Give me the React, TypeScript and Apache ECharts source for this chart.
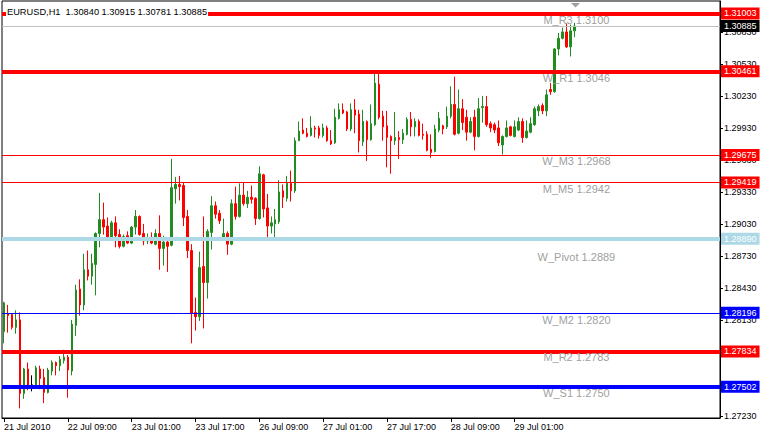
import React, { useEffect, useRef } from "react";
import * as echarts from "echarts";

// ---- candle data (EURUSD H1, 144 bars) ----
const opens = [
  1.2802, 1.2819, 1.2818, 1.2806, 1.2813, 1.2744, 1.2767, 1.2752, 1.2752, 1.2767,
  1.2759, 1.2745, 1.2765, 1.2773, 1.2770, 1.2775, 1.2778, 1.2765, 1.2808, 1.2842,
  1.2827, 1.2860, 1.2854, 1.2865, 1.2894, 1.2907, 1.2901, 1.2890, 1.2904, 1.2893,
  1.2882, 1.2892, 1.2885, 1.2900, 1.2910, 1.2894, 1.2887, 1.2889, 1.2884, 1.2894,
  1.2880, 1.2886, 1.2883, 1.2936, 1.2940, 1.2939, 1.2910, 1.2878, 1.2820, 1.2816,
  1.2863, 1.2848, 1.2895, 1.2920, 1.2913, 1.2888, 1.2894, 1.2884, 1.2922, 1.2910,
  1.2930, 1.2922, 1.2928, 1.2927, 1.2908, 1.2949, 1.2918, 1.2901, 1.2903, 1.2905,
  1.2934, 1.2927, 1.2941, 1.2934, 1.2981, 1.2991, 1.2988, 1.2986, 1.2993, 1.2993,
  1.2986, 1.2993, 1.2981, 1.2979, 1.3002, 1.3010, 1.3008, 1.2992, 1.3010, 1.3006,
  1.2980, 1.2999, 1.2982, 1.2996, 1.3034, 1.3004, 1.2995, 1.2985, 1.2981, 1.2984,
  1.2982, 1.2987, 1.3001, 1.2994, 1.2999, 1.2987, 1.2987, 1.2973, 1.2971, 1.2991,
  1.2995, 1.2994, 1.3004, 1.3015, 1.2988, 1.3011, 1.3003, 1.2989, 1.3003, 1.2985,
  1.3012, 1.3013, 1.2997, 1.2996, 1.2993, 1.2977, 1.2985, 1.2994, 1.2985, 1.2991,
  1.2999, 1.2984, 1.2989, 1.2996, 1.3009, 1.3014, 1.3009, 1.3029, 1.3027, 1.3067,
  1.3077, 1.3083, 1.3069, 1.3084,
];
const closes = [
  1.2829, 1.2817, 1.2806, 1.2813, 1.2744, 1.2767, 1.2751, 1.2752, 1.2768, 1.2758,
  1.2745, 1.2766, 1.2773, 1.2770, 1.2776, 1.2778, 1.2766, 1.2809, 1.2841, 1.2827,
  1.2860, 1.2854, 1.2866, 1.2894, 1.2907, 1.2900, 1.2890, 1.2904, 1.2892, 1.2882,
  1.2891, 1.2885, 1.2900, 1.2910, 1.2893, 1.2887, 1.2889, 1.2885, 1.2894, 1.2880,
  1.2886, 1.2882, 1.2937, 1.2940, 1.2938, 1.2909, 1.2878, 1.2819, 1.2816, 1.2862,
  1.2848, 1.2896, 1.2920, 1.2912, 1.2906, 1.2894, 1.2884, 1.2922, 1.2910, 1.2930,
  1.2922, 1.2928, 1.2926, 1.2908, 1.2950, 1.2917, 1.2901, 1.2904, 1.2907, 1.2933,
  1.2928, 1.2941, 1.2934, 1.2981, 1.2990, 1.2988, 1.2985, 1.2993, 1.2992, 1.2986,
  1.2993, 1.2981, 1.2978, 1.3003, 1.3010, 1.3007, 1.2992, 1.3010, 1.3005, 1.2981,
  1.2999, 1.2982, 1.2997, 1.3035, 1.3003, 1.2994, 1.2984, 1.2981, 1.2984, 1.2982,
  1.2988, 1.3001, 1.2994, 1.2999, 1.2986, 1.2986, 1.2972, 1.2970, 1.2992, 1.3002,
  1.2992, 1.3004, 1.3015, 1.2987, 1.3011, 1.2998, 1.2989, 1.2999, 1.2985, 1.3011,
  1.3013, 1.2996, 1.2993, 1.2991, 1.2979, 1.2985, 1.2993, 1.2986, 1.2994, 1.2999,
  1.2984, 1.2990, 1.2997, 1.3011, 1.3013, 1.3009, 1.3024, 1.3027, 1.3067, 1.3077,
  1.3083, 1.3069, 1.3084, 1.30885,
];
const lows = [
  1.2791, 1.2801, 1.2804, 1.2800, 1.2730, 1.2739, 1.2747, 1.2746, 1.2751, 1.2748,
  1.2735, 1.2744, 1.2761, 1.2761, 1.2765, 1.2772, 1.2740, 1.2761, 1.2798, 1.2817,
  1.2822, 1.2850, 1.2846, 1.2836, 1.2881, 1.2893, 1.2889, 1.2889, 1.2881, 1.2880,
  1.2881, 1.2884, 1.2884, 1.2893, 1.2892, 1.2883, 1.2884, 1.2884, 1.2883, 1.2860,
  1.2864, 1.2858, 1.2882, 1.2922, 1.2925, 1.2901, 1.2871, 1.2791, 1.2803, 1.2812,
  1.2805, 1.2833, 1.2879, 1.2908, 1.2903, 1.2887, 1.2874, 1.2883, 1.2907, 1.2909,
  1.2920, 1.2918, 1.2922, 1.2902, 1.2907, 1.2909, 1.2887, 1.2894, 1.2890, 1.2903,
  1.2918, 1.2924, 1.2924, 1.2932, 1.2981, 1.2987, 1.2984, 1.2985, 1.2984, 1.2983,
  1.2984, 1.2980, 1.2977, 1.2978, 1.3001, 1.3006, 1.2990, 1.2990, 1.2988, 1.2970,
  1.2976, 1.2962, 1.2981, 1.2995, 1.3001, 1.2981, 1.2956, 1.2950, 1.2977, 1.2964,
  1.2978, 1.2986, 1.2985, 1.2985, 1.2985, 1.2982, 1.2971, 1.2965, 1.2970, 1.2989,
  1.2987, 1.2992, 1.3002, 1.2986, 1.2987, 1.2991, 1.2981, 1.2988, 1.2972, 1.2984,
  1.2998, 1.2994, 1.2989, 1.2988, 1.2976, 1.2968, 1.2984, 1.2985, 1.2984, 1.2990,
  1.2979, 1.2983, 1.2988, 1.2995, 1.3004, 1.3006, 1.3004, 1.3024, 1.3026, 1.3061,
  1.3076, 1.3068, 1.3060, 1.30781,
];
const highs = [
  1.2830, 1.2827, 1.2819, 1.2822, 1.2820, 1.2768, 1.2773, 1.2761, 1.2770, 1.2770,
  1.2767, 1.2768, 1.2775, 1.2774, 1.2779, 1.2785, 1.2780, 1.2813, 1.2846, 1.2851,
  1.2875, 1.2878, 1.2875, 1.2895, 1.2932, 1.2923, 1.2909, 1.2906, 1.2910, 1.2898,
  1.2893, 1.2896, 1.2901, 1.2916, 1.2911, 1.2903, 1.2894, 1.2895, 1.2898, 1.2911,
  1.2892, 1.2887, 1.2964, 1.2947, 1.2948, 1.2942, 1.2916, 1.2884, 1.2834, 1.2877,
  1.2910, 1.2898, 1.2929, 1.2924, 1.2916, 1.2908, 1.2896, 1.2926, 1.2938, 1.2941,
  1.2942, 1.2934, 1.2939, 1.2928, 1.2957, 1.2950, 1.2931, 1.2910, 1.2917, 1.2944,
  1.2940, 1.2948, 1.2953, 1.2984, 1.2999, 1.3002, 1.2993, 1.3004, 1.2995, 1.2995,
  1.2997, 1.2995, 1.2991, 1.3011, 1.3016, 1.3016, 1.3009, 1.3016, 1.3020, 1.3010,
  1.3010, 1.3000, 1.3015, 1.3045, 1.3045, 1.3009, 1.3009, 1.2986, 1.3008, 1.2990,
  1.2992, 1.3003, 1.3008, 1.3002, 1.3001, 1.2997, 1.2990, 1.2987, 1.2996, 1.3008,
  1.2996, 1.3013, 1.3032, 1.3041, 1.3029, 1.3020, 1.3010, 1.3003, 1.3010, 1.3021,
  1.3023, 1.3023, 1.2999, 1.2998, 1.3000, 1.2986, 1.3000, 1.2995, 1.3000, 1.3003,
  1.3002, 1.3000, 1.3003, 1.3013, 1.3015, 1.3016, 1.3029, 1.3035, 1.3068, 1.3082,
  1.3087, 1.3091, 1.3090, 1.30915,
];

// ---- axes ----
const slotCount = 180; // bars + right-side chart shift
const xTickStep = 16;
const xTickLabels = [
  "21 Jul 2010", "22 Jul 09:00", "23 Jul 01:00", "23 Jul 17:00", "26 Jul 09:00",
  "27 Jul 01:00", "27 Jul 17:00", "28 Jul 09:00", "29 Jul 01:00",
];
const yTickValues = [
  1.2723, 1.2753, 1.2783, 1.2813, 1.2843, 1.2873, 1.2903, 1.2933, 1.2963,
  1.2993, 1.3023, 1.3053, 1.3083,
];
const yMin = 1.2721;
const yMax = 1.3112;

// ---- horizontal levels ----
const levelPrices = [1.31003, 1.30461, 1.29675, 1.29419, 1.2889, 1.28196, 1.27834, 1.27502];
const levelNames = [
  "M_R3 1.3100", "W_R1 1.3046", "W_M3 1.2968", "M_M5 1.2942",
  "W_Pivot 1.2889", "W_M2 1.2820", "M_R2 1.2783", "W_S1 1.2750",
];
const levelColors = ["#ff0000", "#ff0000", "#ff0000", "#ff0000", "#add8e6", "#0000ff", "#ff0000", "#0000ff"];
const levelWidths = [4, 4, 1, 1, 4, 1, 4, 4];
const levelLabelDy = [7, 7, 6, 7, 18, 7, 6, 6];
const bidPrice = 1.30885;
const titleText = "EURUSD,H1  1.30840 1.30915 1.30781 1.30885";

const FONT = '"Liberation Sans", Arial, sans-serif';

export default function App() {
  const ref = useRef<HTMLDivElement>(null);

  useEffect(() => {
    if (!ref.current) return;
    const chart = echarts.init(ref.current, undefined, { renderer: "svg" });

    const cats = Array.from({ length: slotCount }, (_, i) => String(i));
    const candles = opens.map((o, i) => [o, closes[i], lows[i], highs[i]]);
    const isTick = (i: number) => i % xTickStep === 0 && i / xTickStep < xTickLabels.length;
    const lastIdx = String(opens.length - 1);

    const badge = (text: string, bg: string) => ({
      show: true,
      position: "end",
      distance: 1,
      formatter: text,
      backgroundColor: bg,
      color: "#ffffff",
      padding: [2, 3, 1, 3],
      fontSize: 9,
      fontFamily: FONT,
    });

    const markLineData: any[] = [
      {
        yAxis: bidPrice,
        lineStyle: { color: "#c0c0c0", width: 1, type: "solid" },
        label: badge(bidPrice.toFixed(5), "#000000"),
      },
    ];
    levelPrices.forEach((p, k) => {
      markLineData.push({
        yAxis: p,
        lineStyle: { color: levelColors[k], width: levelWidths[k], type: "solid" },
        label: badge(p.toFixed(5), levelColors[k]),
      });
    });

    const markPointData = levelPrices.map((p, k) => ({
      coord: [lastIdx, p],
      symbol: "circle",
      symbolSize: 1,
      itemStyle: { color: "rgba(0,0,0,0)" },
      label: {
        show: true,
        position: "inside",
        offset: [2, levelLabelDy[k]],
        formatter: levelNames[k],
        color: "#a0a0a0",
        fontSize: 11,
        fontFamily: FONT,
      },
    }));

    chart.setOption({
      animation: false,
      backgroundColor: "#ffffff",
      grid: {
        left: 2,
        right: 40,
        top: 1,
        bottom: 18,
        show: true,
        borderColor: "#000",
        borderWidth: 1,
        backgroundColor: "#fff",
      },
      xAxis: {
        type: "category",
        data: cats,
        boundaryGap: true,
        axisLine: { show: true, lineStyle: { color: "#000", width: 1 } },
        axisTick: {
          show: true,
          alignWithLabel: true,
          interval: (i: number) => isTick(i),
          length: 4,
          lineStyle: { color: "#000" },
        },
        axisLabel: {
          interval: (i: number) => isTick(i),
          formatter: (_v: string, i: number) => (isTick(i) ? xTickLabels[i / xTickStep] : ""),
          align: "left",
          margin: 4,
          fontSize: 9,
          color: "#000",
          fontFamily: FONT,
        },
        splitLine: { show: false },
      },
      yAxis: {
        type: "value",
        position: "right",
        min: yMin,
        max: yMax,
        scale: true,
        splitLine: { show: false },
        axisLine: { show: true, lineStyle: { color: "#000", width: 1 } },
        axisTick: {
          show: true,
          customValues: yTickValues,
          length: 3,
          lineStyle: { color: "#000" },
        },
        axisLabel: {
          customValues: yTickValues,
          formatter: (v: number) => v.toFixed(5),
          margin: 4,
          fontSize: 9,
          color: "#000",
          fontFamily: FONT,
        },
      },
      series: [
        {
          type: "candlestick",
          data: candles,
          barWidth: 2,
          z: 2,
          itemStyle: {
            color: "#228B22",
            color0: "#ff0000",
            borderColor: "#228B22",
            borderColor0: "#ff0000",
            borderColorDoji: "#000000",
            borderWidth: 1,
          },
          markLine: {
            silent: true,
            symbol: ["none", "none"],
            animation: false,
            precision: 5,
            data: markLineData,
          },
          markPoint: {
            silent: true,
            animation: false,
            data: markPointData,
          },
        },
      ],
      graphic: [
        {
          type: "polygon",
          shape: { points: [[571, 3], [580, 3], [575.5, 7.5]] },
          style: { fill: "#a0a0a0" },
          z: 50,
        },
        {
          type: "text",
          left: 6,
          top: 6,
          z: 100,
          style: {
            text: titleText,
            fill: "#000",
            font: `9.25px ${FONT}`,
            backgroundColor: "#fff",
            padding: [1, 1, 1, 1],
          },
        },
      ],
    });

    return () => chart.dispose();
  }, []);

  return (
    <div
      ref={ref}
      style={{ width: 760, height: 436, position: "absolute", left: 0, top: 0 }}
    />
  );
}
